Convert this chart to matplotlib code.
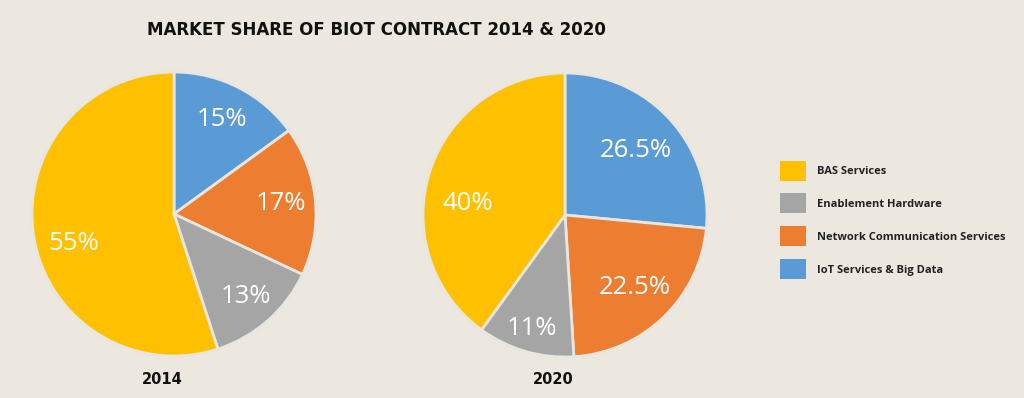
import numpy as np
import matplotlib.pyplot as plt
from matplotlib.patches import Patch

categories = ["BAS Services", "Enablement Hardware",
              "Network Communication Services", "IoT Services & Big Data"]
colors = ["#FFC000", "#A5A5A5", "#ED7D31", "#5B9BD5"]

# pie order, clockwise from 12 o'clock: IoT, Network, Enablement, BAS
share_2014 = [15, 17, 13, 55]
share_2020 = [26.5, 22.5, 11, 40]
labels_2014 = ["15%", "17%", "13%", "55%"]
labels_2020 = ["26.5%", "22.5%", "11%", "40%"]
pie_colors = [colors[3], colors[2], colors[1], colors[0]]

# percent label placement: fraction of radius, angle shift from wedge middle
dist_2014 = [0.75, 0.76, 0.77, 0.74]
shift_2014 = [0, 0, 0, 7.5]
dist_2020 = [0.67, 0.71, 0.83, 0.69]
shift_2020 = [0, 0, 0, 11]

bg = "#ECE8DF"
plt.rcParams['font.family'] = ['Open Sans', 'DejaVu Sans']

fig = plt.figure(figsize=(10.24, 3.98), dpi=100, facecolor=bg)
W, H = 1024, 398


def draw_pie(cx, cy, r, values, labels, dists, shifts, year, year_y):
    ax = fig.add_axes([(cx - r) / W, (H - cy - r) / H, 2 * r / W, 2 * r / H])
    ax.set_facecolor(bg)
    wedges, _ = ax.pie(values, colors=pie_colors, startangle=90, counterclock=False,
                       wedgeprops=dict(edgecolor="#E8E6E0", linewidth=2))
    for w, lab, d, s in zip(wedges, labels, dists, shifts):
        ang = np.deg2rad((w.theta1 + w.theta2) / 2 + s)
        ax.text(d * np.cos(ang), d * np.sin(ang), lab, ha="center", va="center",
                color="white", fontsize=18.5)
    ax.set_xlim(-1, 1)
    ax.set_ylim(-1, 1)
    ax.set_aspect("equal")
    ax.axis("off")
    fig.text(cx / W - 12 / W, 1 - year_y / H, year, ha="center", va="center",
             fontsize=10.5, fontweight="bold", color="#111111", family="DejaVu Sans")


draw_pie(174, 214, 142, share_2014, labels_2014, dist_2014, shift_2014, "2014", 379)
draw_pie(565, 215, 142, share_2020, labels_2020, dist_2020, shift_2020, "2020", 379)

fig.text(376 / W, 1 - 30 / H, "MARKET SHARE OF BIOT CONTRACT 2014 & 2020",
         ha="center", va="center", fontsize=12, fontweight="bold", color="#111111",
         family="DejaVu Sans")

handles = [Patch(facecolor=c, edgecolor="none") for c in colors]
leg = fig.legend(handles, categories, loc="upper left",
                 bbox_to_anchor=(774 / W, 1 - 155 / H), frameon=False,
                 borderpad=0, handlelength=2.4, handleheight=2.4,
                 handletextpad=1.0, labelspacing=1.15,
                 prop=dict(size=8, weight="bold"))
for t in leg.get_texts():
    t.set_color("#222222")

fig.savefig("out.png", dpi=100, facecolor=bg)
